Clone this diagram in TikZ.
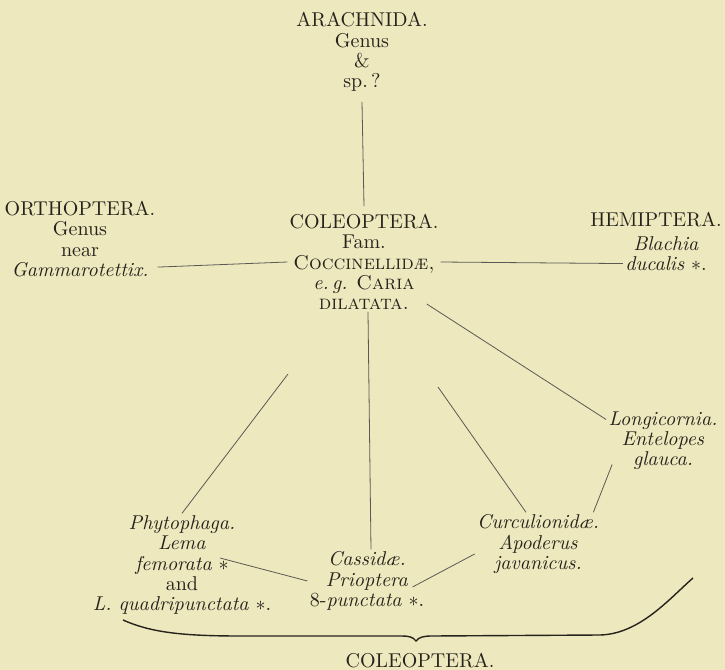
\documentclass[tikz,border=0pt]{standalone}
\usepackage{amssymb}
\usepackage{amsmath}
\usepackage{tikz}
\definecolor{paper}{RGB}{237,232,189}
\definecolor{ink}{RGB}{38,34,28}

\begin{document}
\begin{tikzpicture}[x=0.5pt,y=-0.5pt,
  txt/.style={align=center,inner sep=1pt,text=ink,font={\fontsize{10}{10.1}\selectfont}},
  link/.style={draw=ink!75,line width=0.4pt}]
\fill[paper] (0,0) rectangle (725,670);
\useasboundingbox (0,0) rectangle (725,670);

% groups
\node[txt] (arach) at (362,52) {ARACHNIDA.\\Genus\\\&\\sp.\,?};
\node[txt] (ortho) at (80,239) {ORTHOPTERA.\\Genus\\near\\\textit{Gammarotettix.}};
\node[txt] (cole) at (364,262) {COLEOPTERA.\\Fam.\\\textsc{Coccinellid\ae,}\\\textit{e.\,g.} \textsc{Caria}\\\textsc{dilatata.}};
\node[txt] (hemi) at (656,220) {HEMIPTERA.};
\node[txt] (blachia) at (666,254) {\textit{Blachia}\\\textit{ducalis} $\ast$.};
\node[txt] (longi) at (663,441) {\textit{Longicornia.}\\\textit{Entelopes}\\\textit{glauca.}};
\node[txt] (phyto) at (182,565) {\textit{Phytophaga.}\\\textit{Lema}\\\textit{femorata} $\ast$\\and\\\textit{L. quadripunctata} $\ast$.};
\node[txt] (cass) at (367,581) {\textit{Cassid\ae.}\\\textit{Prioptera}\\8-\textit{punctata} $\ast$.};
\node[txt] (curc) at (538,544) {\textit{Curculionid\ae.}\\\textit{Apoderus}\\\textit{javanicus.}};
\node[txt] (bottom) at (420,661) {COLEOPTERA.};

% free ends
\coordinate (phytoup) at (288,374);
\coordinate (curcup) at (438,387);
\coordinate (lema) at (220,558);

% connectors
\draw[link] ([yshift=-4pt]arach.south) -- ([yshift=3pt]cole.north);
\draw[link] ([yshift=6pt]ortho.south east) -- (cole.west);
\draw[link] (cole.east) -- ([yshift=5pt]blachia.south west);
\draw[link] ([xshift=-7pt,yshift=4pt]cole.south east) -- ([yshift=-5pt]longi.north west);
\draw[link] ([xshift=2pt]cole.south) -- ([xshift=2pt]cass.north);
\draw[link] (phyto.north) -- (phytoup);
\draw[link] (lema) -- (cass.west);
\draw[link] ([xshift=-7pt,yshift=-3pt]cass.east) -- ([yshift=-5pt]curc.west);
\draw[link] ([xshift=-6pt]curc.north) -- (curcup);
\draw[link] ([xshift=-4pt]curc.north east) -- ([xshift=3pt,yshift=4pt]longi.south west);

% brace
\draw[ink,line width=0.7pt] (123,620) .. controls (150,632) and (180,636) .. (240,636)
  -- (402,636) .. controls (409,636) and (413,637) .. (416,641)
  .. controls (419,637) and (424,636) .. (432,636) -- (600,635)
  .. controls (640,634) and (670,598) .. (693,578);
\end{tikzpicture}
\end{document}
